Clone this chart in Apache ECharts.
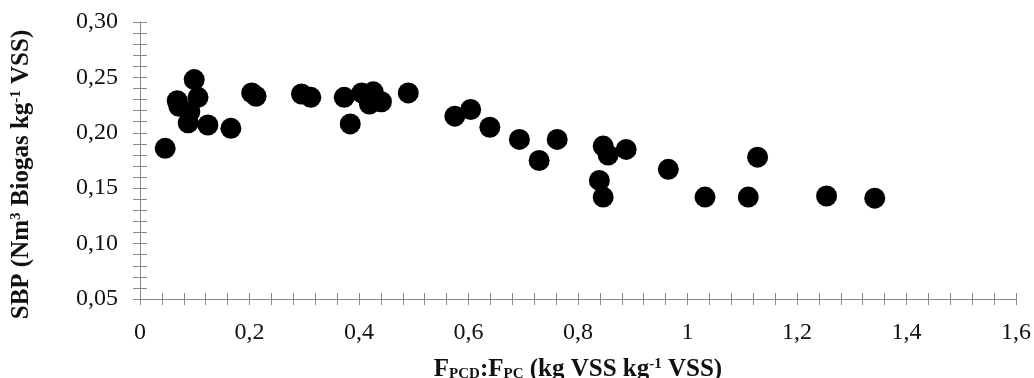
<!DOCTYPE html>
<html>
<head>
<meta charset="utf-8">
<script src="https://cdn.jsdelivr.net/npm/echarts@6/dist/echarts.min.js"></script>
<style>html,body{margin:0;padding:0;background:#fff}#c{width:1034px;height:378px}</style>
</head>
<body>
<div id="c"></div>
<script>
const xValues = [0.046,0.068,0.071,0.099,0.106,0.091,0.088,0.124,0.166,0.204,0.212,0.295,0.312,0.373,0.384,0.405,0.426,0.419,0.441,0.490,0.575,0.604,0.639,0.693,0.729,0.762,0.846,0.855,0.888,0.839,0.846,0.965,1.032,1.111,1.128,1.254,1.342];
const yValues = [0.186,0.229,0.224,0.248,0.232,0.219,0.209,0.207,0.204,0.236,0.233,0.235,0.232,0.232,0.208,0.236,0.237,0.226,0.228,0.236,0.215,0.221,0.205,0.194,0.175,0.194,0.188,0.180,0.185,0.157,0.142,0.167,0.142,0.142,0.178,0.143,0.141];
const xTicks = {min:0, max:1.6, interval:0.2};
const yTicks = {min:0.05, max:0.30, interval:0.05};
const yTitle = '{b|SBP (Nm}{sup|3}{b| Biogas kg}{sup|-1}{b| VSS)}';
const xTitle = '{b|F}{sub|PCD}{b|:F}{sub|PC}{b| (kg VSS kg}{sup|-1}{b| VSS)}';

const font = '"Liberation Serif","Times New Roman",serif';
const axisColor = '#8a8a8a';
const rich = {
  b:{fontFamily:font,fontWeight:'bold',fontSize:25,color:'#111'},
  sup:{fontFamily:font,fontWeight:'bold',fontSize:15,color:'#111',verticalAlign:'top'},
  sub:{fontFamily:font,fontWeight:'bold',fontSize:15,color:'#111',verticalAlign:'bottom'}
};
const data = xValues.map((x,i)=>[x,yValues[i]]);
const fmtX = v => String(+v.toFixed(1)).replace('.',',');
const fmtY = v => v.toFixed(2).replace('.',',');

const chart = echarts.init(document.getElementById('c'));
chart.setOption({
  animation:false,
  backgroundColor:'#fff',
  grid:{left:140,right:18,top:22,bottom:79,containLabel:false,outerBoundsMode:'none'},
  xAxis:[{
    type:'value', min:xTicks.min, max:xTicks.max, interval:xTicks.interval,
    name:xTitle, nameLocation:'middle', nameGap:58,
    nameTextStyle:{rich:rich},
    axisLine:{show:true,lineStyle:{color:axisColor,width:1}},
    axisTick:{show:true,inside:false,length:6,lineStyle:{color:axisColor}},
    minorTick:{show:true,splitNumber:5,length:6,lineStyle:{color:axisColor}},
    splitLine:{show:false},
    axisLabel:{formatter:fmtX,fontFamily:font,fontSize:24,color:'#111',margin:22}
  },{
    type:'value', min:xTicks.min, max:xTicks.max, interval:xTicks.interval, position:'bottom',
    axisLine:{show:false},
    axisTick:{show:true,inside:true,length:6,lineStyle:{color:axisColor}},
    minorTick:{show:true,splitNumber:5,length:6,lineStyle:{color:axisColor}},
    splitLine:{show:false}, axisLabel:{show:false}
  }],
  yAxis:[{
    type:'value', min:yTicks.min, max:yTicks.max, interval:yTicks.interval,
    name:yTitle, nameLocation:'middle', nameGap:106, nameRotate:90,
    nameTextStyle:{rich:rich,padding:[0,28,0,0]},
    axisLine:{show:true,lineStyle:{color:axisColor,width:1}},
    axisTick:{show:true,inside:false,length:7,lineStyle:{color:axisColor}},
    minorTick:{show:true,splitNumber:5,length:7,lineStyle:{color:axisColor}},
    splitLine:{show:false},
    axisLabel:{formatter:fmtY,fontFamily:font,fontSize:24,color:'#111',margin:22}
  },{
    type:'value', min:yTicks.min, max:yTicks.max, interval:yTicks.interval, position:'left',
    axisLine:{show:false},
    axisTick:{show:true,inside:true,length:7,lineStyle:{color:axisColor}},
    minorTick:{show:true,splitNumber:5,length:7,lineStyle:{color:axisColor}},
    splitLine:{show:false}, axisLabel:{show:false}
  }],
  series:[{
    type:'scatter', xAxisIndex:0, yAxisIndex:0,
    data:data, symbol:'circle', symbolSize:21,
    itemStyle:{color:'#000',opacity:1}
  }]
});
</script>
</body>
</html>
